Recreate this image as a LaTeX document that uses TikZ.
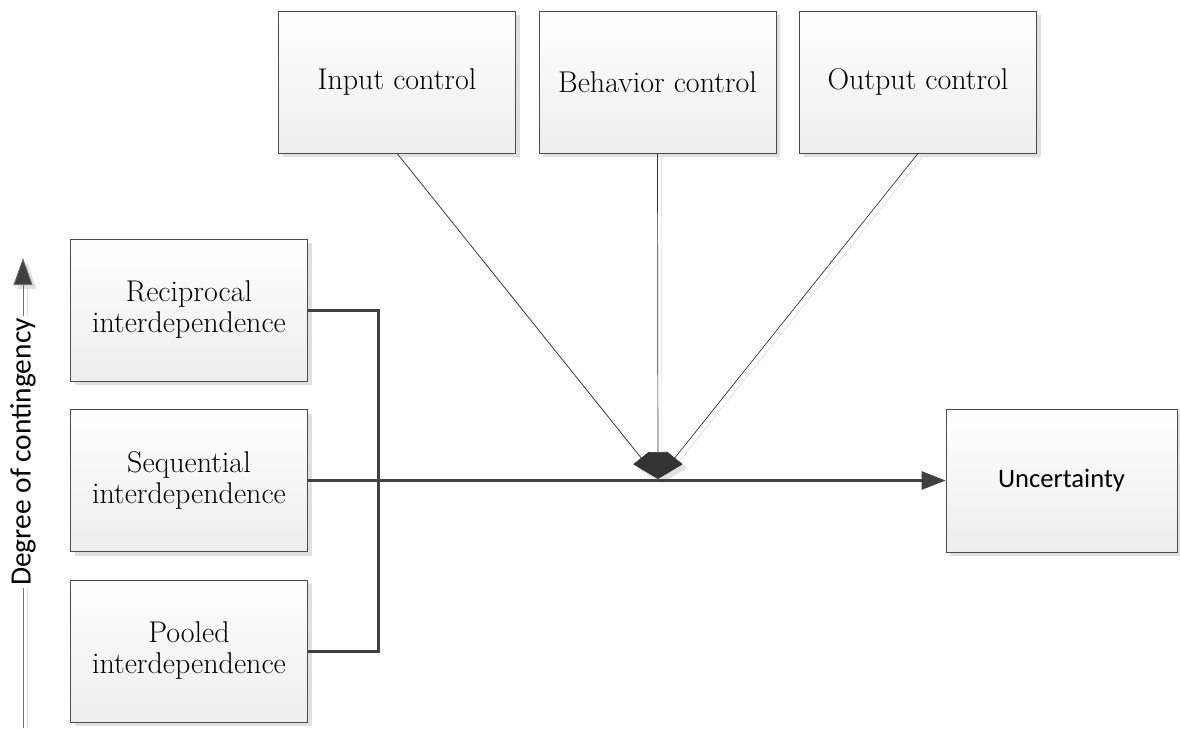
\documentclass[tikz,border=0pt]{standalone}
\usepackage{fontspec}
\newfontfamily\labelsans{Carlito}
\usetikzlibrary{arrows.meta,shadows}
\begin{document}
\begin{tikzpicture}[x=1pt,y=-1pt,
  box/.style={draw=black!70, line width=0.8pt, top color=white, bottom color=black!7,
    general shadow={fill=black!12, shadow xshift=4pt, shadow yshift=-4pt},
    minimum width=237pt, minimum height=142pt, inner sep=0pt, align=center,
    font=\fontsize{30}{31}\selectfont},
  ctl/.style={draw=black!80, line width=0.7pt, -{Triangle[length=27pt,width=20pt]}},
  ctlshadow/.style={draw=black!12, line width=0.7pt, -{Triangle[length=27pt,width=20pt]}},
  flow/.style={draw=black!75, line width=3pt},
  axisline/.style={draw=black!55, line width=0.8pt}
]
\useasboundingbox (0,0) rectangle (1180,728);

% control mechanisms
\node[box] (in)  at (397,82)  {Input control};
\node[box] (beh) at (657.5,82) {Behavior control};
\node[box] (out) at (918,82)  {Output control};

% interdependence types
\node[box] (rec)  at (189,310)   {Reciprocal\\interdependence};
\node[box] (seq)  at (189,480.5) {Sequential\\interdependence};
\node[box] (pool) at (189,651)   {Pooled\\interdependence};

% outcome
\node[box, minimum width=231pt, minimum height=143pt, font=\labelsans\fontsize{26.6}{31}\selectfont] (unc) at (1061.5,480.5) {Uncertainty};

% converging control arrows
\coordinate (hub) at (658,479);
\foreach \src in {in,beh,out}{
  \draw[ctlshadow] ([shift={(4,4)}]\src.south) -- ([shift={(4,4)}]hub);
}
\foreach \src in {in,beh,out}{
  \draw[ctl] (\src.south) -- (hub);
}

% bracket joining the three interdependence boxes
\draw[flow] (rec.east) -- ++(71,0) |- (pool.east);

% main flow to uncertainty
\draw[flow, -{Triangle[length=24pt,width=18pt]}] (seq.east) -- (unc.west);

% vertical axis
\coordinate (axbot) at (23,728);
\coordinate (axtop) at (23,258);
\draw[draw=black!12, line width=0.8pt, -{Triangle[length=27pt,width=19pt]}] ([shift={(4,0)}]axbot) -- ([shift={(4,4)}]axtop);
\draw[axisline, -{Triangle[length=27pt,width=19pt,fill=black!75]}] (axbot) -- (axtop);
\node[fill=white, inner sep=2pt, rotate=90, font=\labelsans\fontsize{29.4}{31}\selectfont] (axlabel) at (23,452) {Degree of contingency};
\end{tikzpicture}
\end{document}
